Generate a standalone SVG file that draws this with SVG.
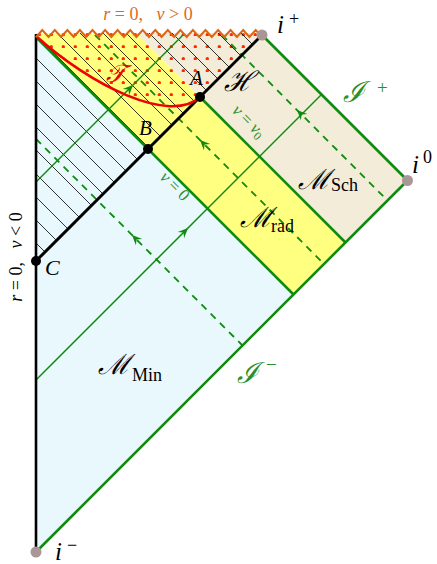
<svg xmlns="http://www.w3.org/2000/svg" xmlns:xlink="http://www.w3.org/1999/xlink" width="437" height="564" viewBox="0 0 437 564">
<style>
.thick{stroke:#108a10;stroke-width:2.6;fill:none}
.thin{stroke:#108a10;stroke-width:1.5;fill:none}
.dash{stroke:#108a10;stroke-width:1.8;fill:none;stroke-dasharray:7 6}
.hatch{stroke:#000;stroke-width:0.8}
.lbl{font-family:"Liberation Serif","DejaVu Serif",serif;fill:#000}
.it{font-style:italic}
.scr{font-family:"DejaVu Serif","Liberation Serif",serif;font-style:italic}
.grn{fill:#2a8f2a}
.org{fill:#de6a1e}
</style>
<defs>
<pattern id="dots" patternUnits="userSpaceOnUse" width="12" height="12">
<circle cx="3.3" cy="10.7" r="1.7" fill="#ff2a00"/>
</pattern>
<clipPath id="bhclip"><polygon points="36,33 262,33 262,35 36,261"/></clipPath>
<path id="arr" d="M0,0 L-10,-4.5 L-6.5,0 L-10,4.5 Z" fill="#108a10"/>
</defs>

<g id="regions">
<polygon id="min" points="36,33 37,33 36,37 293.5,294.5 36,552" fill="#e9f8fd"/>
<polygon id="rad" points="36,33 136,33 138,35 345.5,242.5 293.5,294.5 36,37" fill="#ffff80"/>
<polygon id="sch" points="136,33 262,33 262,35 407.5,180.5 345.5,242.5 138,35" fill="#f2ecd9"/>
<path id="trapped" d="M36,36 C90,85 170,125 200,97 L262,35 L262,33 L36,33 Z" fill="url(#dots)"/>
</g>

<g id="hatching" clip-path="url(#bhclip)">
<path class="hatch" d="M0,207 L300,507 M0,184 L300,484 M0,161 L300,461 M0,138 L300,438 M0,114 L300,414 M0,91 L300,391 M0,68 L300,368 M0,45 L300,345 M0,22 L300,322 M0,-1 L300,299 M0,-24 L300,276 M0,-47 L300,253 M0,-70 L300,230 M0,-93 L300,207 M0,-116 L300,184 M0,-139 L300,161 M0,-162 L300,138 M0,-185 L300,115 M0,-208 L300,92"/>
</g>

<g id="connectors">
<line class="dash" x1="36" y1="139" x2="242.5" y2="345.5"/>
<line class="dash" x1="95" y1="35" x2="324" y2="264"/>
<line class="dash" x1="222" y1="35" x2="387.5" y2="200.5"/>
<line class="thin" x1="36" y1="182" x2="183" y2="35"/>
<line class="thin" x1="36" y1="380" x2="321.5" y2="94.5"/>
<line id="v0line" class="thick" x1="36" y1="37" x2="293.5" y2="294.5"/>
<line id="vv0line" class="thick" x1="200" y1="97" x2="345.5" y2="242.5"/>
<line id="scriplus" class="thick" x1="262" y1="35" x2="407.5" y2="180.5"/>
<line id="scriminus" class="thick" x1="36" y1="552" x2="407.5" y2="180.5"/>
<line id="axis" x1="36" y1="34" x2="36" y2="552" stroke="#000" stroke-width="2.6"/>
<line id="horizon" x1="36" y1="261" x2="262" y2="35" stroke="#000" stroke-width="3"/>
<path id="apparent" d="M36,36 C90,85 170,125 200,97" fill="none" stroke="#ee0000" stroke-width="2.5"/>
<polyline id="singularity" fill="none" stroke="#dd6616" stroke-width="2" stroke-linejoin="miter" points="36,37 42.3,30 48.6,37 54.8,30 61.1,37 67.4,30 73.7,37 79.9,30 86.2,37 92.5,30 98.8,37 105.1,30 111.3,37 117.6,30 123.9,37 130.2,30 136.4,37 142.7,30 149,37 155.3,30 161.6,37 167.8,30 174.1,37 180.4,30 186.7,37 192.9,30 199.2,37 205.5,30 211.8,37 218.1,30 224.3,37 230.6,30 236.9,37 243.2,30 249.4,37 255.7,30 262,37"/>
<use xlink:href="#arr" transform="translate(188,228) rotate(-45)"/>
<use xlink:href="#arr" transform="translate(133,85) rotate(-45)"/>
<use xlink:href="#arr" transform="translate(132,235) rotate(-135)"/>
<use xlink:href="#arr" transform="translate(200,140) rotate(-135)"/>
<use xlink:href="#arr" transform="translate(297,110) rotate(-135)"/>
</g>

<g id="points">
<circle id="iplus" cx="262" cy="35" r="5.5" fill="#a99797"/>
<circle id="izero" cx="407.5" cy="180.5" r="5.5" fill="#a99797"/>
<circle id="iminus" cx="36" cy="552" r="5.5" fill="#a99797"/>
<circle id="A" cx="200" cy="97" r="5" fill="#000"/>
<circle id="B" cx="148" cy="149" r="5" fill="#000"/>
<circle id="C" cx="36" cy="261" r="5" fill="#000"/>
</g>

<g id="labels">
<text class="lbl org" x="148" y="20" font-size="18" text-anchor="middle" xml:space="preserve"><tspan class="it">r</tspan> = 0,   <tspan class="it">v</tspan> &gt; 0</text>
<text class="lbl" transform="translate(22,257) rotate(-90)" font-size="18" text-anchor="middle" xml:space="preserve"><tspan class="it">r</tspan> = 0,   <tspan class="it">v</tspan> &lt; 0</text>
<text class="lbl it" x="277" y="33" font-size="25">i</text><text class="lbl" x="289" y="25" font-size="18">+</text>
<text class="lbl it" x="412" y="173" font-size="25">i</text><text class="lbl" x="423" y="163" font-size="18">0</text>
<text class="lbl it" x="55" y="560" font-size="25">i</text><text class="lbl" x="67" y="551" font-size="18">−</text>
<text class="lbl it" x="190" y="85" font-size="21">A</text>
<text class="lbl it" x="139" y="135" font-size="21">B</text>
<text class="lbl it" x="45" y="275" font-size="22">C</text>
<text class="scr" x="224" y="91" font-size="28" fill="#000">ℋ</text>
<text class="scr" x="106" y="82" font-size="25" fill="#ee0000">𝒯</text>
<text class="scr grn" x="343" y="102" font-size="29">ℐ</text><text class="lbl grn" x="377" y="94" font-size="19">+</text>
<text class="scr grn" x="237" y="383" font-size="29">ℐ</text><text class="lbl grn" x="266" y="371" font-size="19">−</text>
<text class="lbl grn" transform="translate(245,125) rotate(45)" font-size="17" text-anchor="middle"><tspan class="it">v</tspan> = <tspan class="it">v</tspan><tspan font-size="12" dy="3">0</tspan></text>
<text class="lbl grn" transform="translate(171,190) rotate(45)" font-size="17" text-anchor="middle"><tspan class="it">v</tspan> = 0</text>
<text class="scr" x="298" y="189" font-size="28">ℳ</text><text class="lbl" x="331" y="191" font-size="18">Sch</text>
<text class="scr" x="240" y="227" font-size="28">ℳ</text><text class="lbl" x="271" y="232" font-size="18">rad</text>
<text class="scr" x="98" y="374" font-size="28">ℳ</text><text class="lbl" x="132" y="381" font-size="18">Min</text>
</g>
</svg>
